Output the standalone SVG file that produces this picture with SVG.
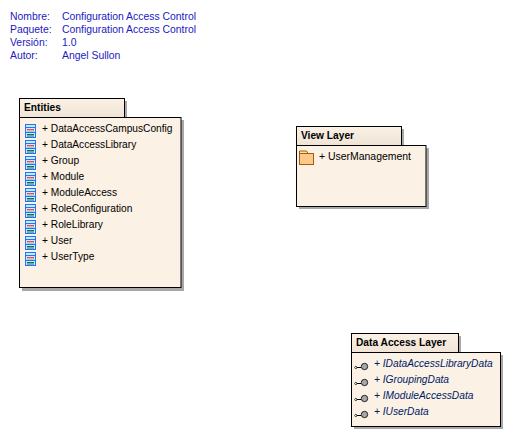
<svg xmlns="http://www.w3.org/2000/svg" width="510" height="436" viewBox="0 0 510 436">
<style>
text{font-family:"Liberation Sans",Arial,sans-serif;font-size:10.2px;fill:#000}
.meta text{fill:#1a1ac0;font-size:10.4px}
.box{fill:#fbf1e4;stroke:#000;stroke-width:1}
.tab{fill:url(#tabg);stroke:#000;stroke-width:1}
.sh{fill:#a8a8a8}
.title{font-weight:bold;font-size:10.2px}
.it{font-style:italic;fill:#001a66}
</style>
<defs>
<linearGradient id="tabg" x1="0" y1="0" x2="0" y2="1"><stop offset="0" stop-color="#fbf1e4"/><stop offset="1" stop-color="#efe4d6"/></linearGradient>
<g id="cls">
<rect x="0.500" y="0.500" width="10" height="13" fill="#b8f0ff" stroke="#2a70f0"/>
<line x1="1" y1="3.500" x2="10" y2="3.500" stroke="#2a70f0"/>
<line x1="2" y1="5.500" x2="9" y2="5.500" stroke="#f0407a"/>
<line x1="2" y1="7" x2="9" y2="7" stroke="#f09040"/>
<line x1="1" y1="8.500" x2="10" y2="8.500" stroke="#2a70f0"/>
<line x1="2" y1="10.500" x2="9" y2="10.500" stroke="#107070"/>
<line x1="2" y1="12" x2="9" y2="12" stroke="#107070"/>
</g>
<g id="ifc">
<line x1="0" y1="5.500" x2="6" y2="5.500" stroke="#000"/>
<circle cx="0.800" cy="5.500" r="1.100" fill="#fff" stroke="#000" stroke-width="0.700"/>
<circle cx="9.500" cy="4.500" r="3.200" fill="#a8a8a8" stroke="#000" stroke-width="0.800"/>
</g>
</defs>
<rect width="510" height="436" fill="#fff"/>
<g id="meta" class="meta">
<text x="10" y="20">Nombre:</text><text x="62" y="20">Configuration Access Control</text>
<text x="10" y="33">Paquete:</text><text x="62" y="33">Configuration Access Control</text>
<text x="10" y="46">Versión:</text><text x="62" y="46">1.0</text>
<text x="10" y="59">Autor:</text><text x="62" y="59">Angel Sullon</text>
</g>
<g id="connectors"/>
<g id="entities">
<rect class="sh" x="22" y="101" width="105" height="19"/>
<rect class="sh" x="22" y="120" width="162" height="171"/>
<rect class="tab" x="19.500" y="98.500" width="105" height="19"/>
<rect class="box" x="19.500" y="117.500" width="161.500" height="170"/>
<text class="title" x="24" y="111">Entities</text>
<use href="#cls" x="25" y="124"/><text x="42" y="132">+ DataAccessCampusConfig</text>
<use href="#cls" x="25" y="140"/><text x="42" y="148">+ DataAccessLibrary</text>
<use href="#cls" x="25" y="156"/><text x="42" y="164">+ Group</text>
<use href="#cls" x="25" y="172"/><text x="42" y="180">+ Module</text>
<use href="#cls" x="25" y="188"/><text x="42" y="196">+ ModuleAccess</text>
<use href="#cls" x="25" y="204"/><text x="42" y="212">+ RoleConfiguration</text>
<use href="#cls" x="25" y="220"/><text x="42" y="228">+ RoleLibrary</text>
<use href="#cls" x="25" y="236"/><text x="42" y="244">+ User</text>
<use href="#cls" x="25" y="252"/><text x="42" y="260">+ UserType</text>
</g>
<g id="view-layer">
<rect class="sh" x="299" y="129" width="105" height="19"/>
<rect class="sh" x="299" y="148" width="130" height="61"/>
<rect class="tab" x="296.500" y="126.500" width="105" height="19"/>
<rect class="box" x="296.500" y="145.500" width="129.500" height="61"/>
<text class="title" x="301" y="139">View Layer</text>
<path d="M299.500 153.500v-2.500h7l1.500 2.500z" fill="#fbe39a" stroke="#a85a10"/>
<rect x="299.500" y="153.500" width="14" height="11" fill="#fcc98a" stroke="#a85a10"/>
<text x="319" y="160" style="font-size:10.450px">+ UserManagement</text>
</g>
<g id="data-access-layer">
<rect class="sh" x="354" y="336" width="107" height="19"/>
<rect class="sh" x="354" y="355" width="149" height="74"/>
<rect class="tab" x="351.500" y="333.500" width="107" height="19"/>
<rect class="box" x="351.500" y="352.500" width="149" height="74"/>
<text class="title" x="356" y="346">Data Access Layer</text>
<use href="#ifc" x="355" y="362"/><text class="it" x="374" y="367">+ IDataAccessLibraryData</text>
<use href="#ifc" x="355" y="378"/><text class="it" x="374" y="383">+ IGroupingData</text>
<use href="#ifc" x="355" y="394"/><text class="it" x="374" y="399">+ IModuleAccessData</text>
<use href="#ifc" x="355" y="410"/><text class="it" x="374" y="415">+ IUserData</text>
</g>
</svg>
